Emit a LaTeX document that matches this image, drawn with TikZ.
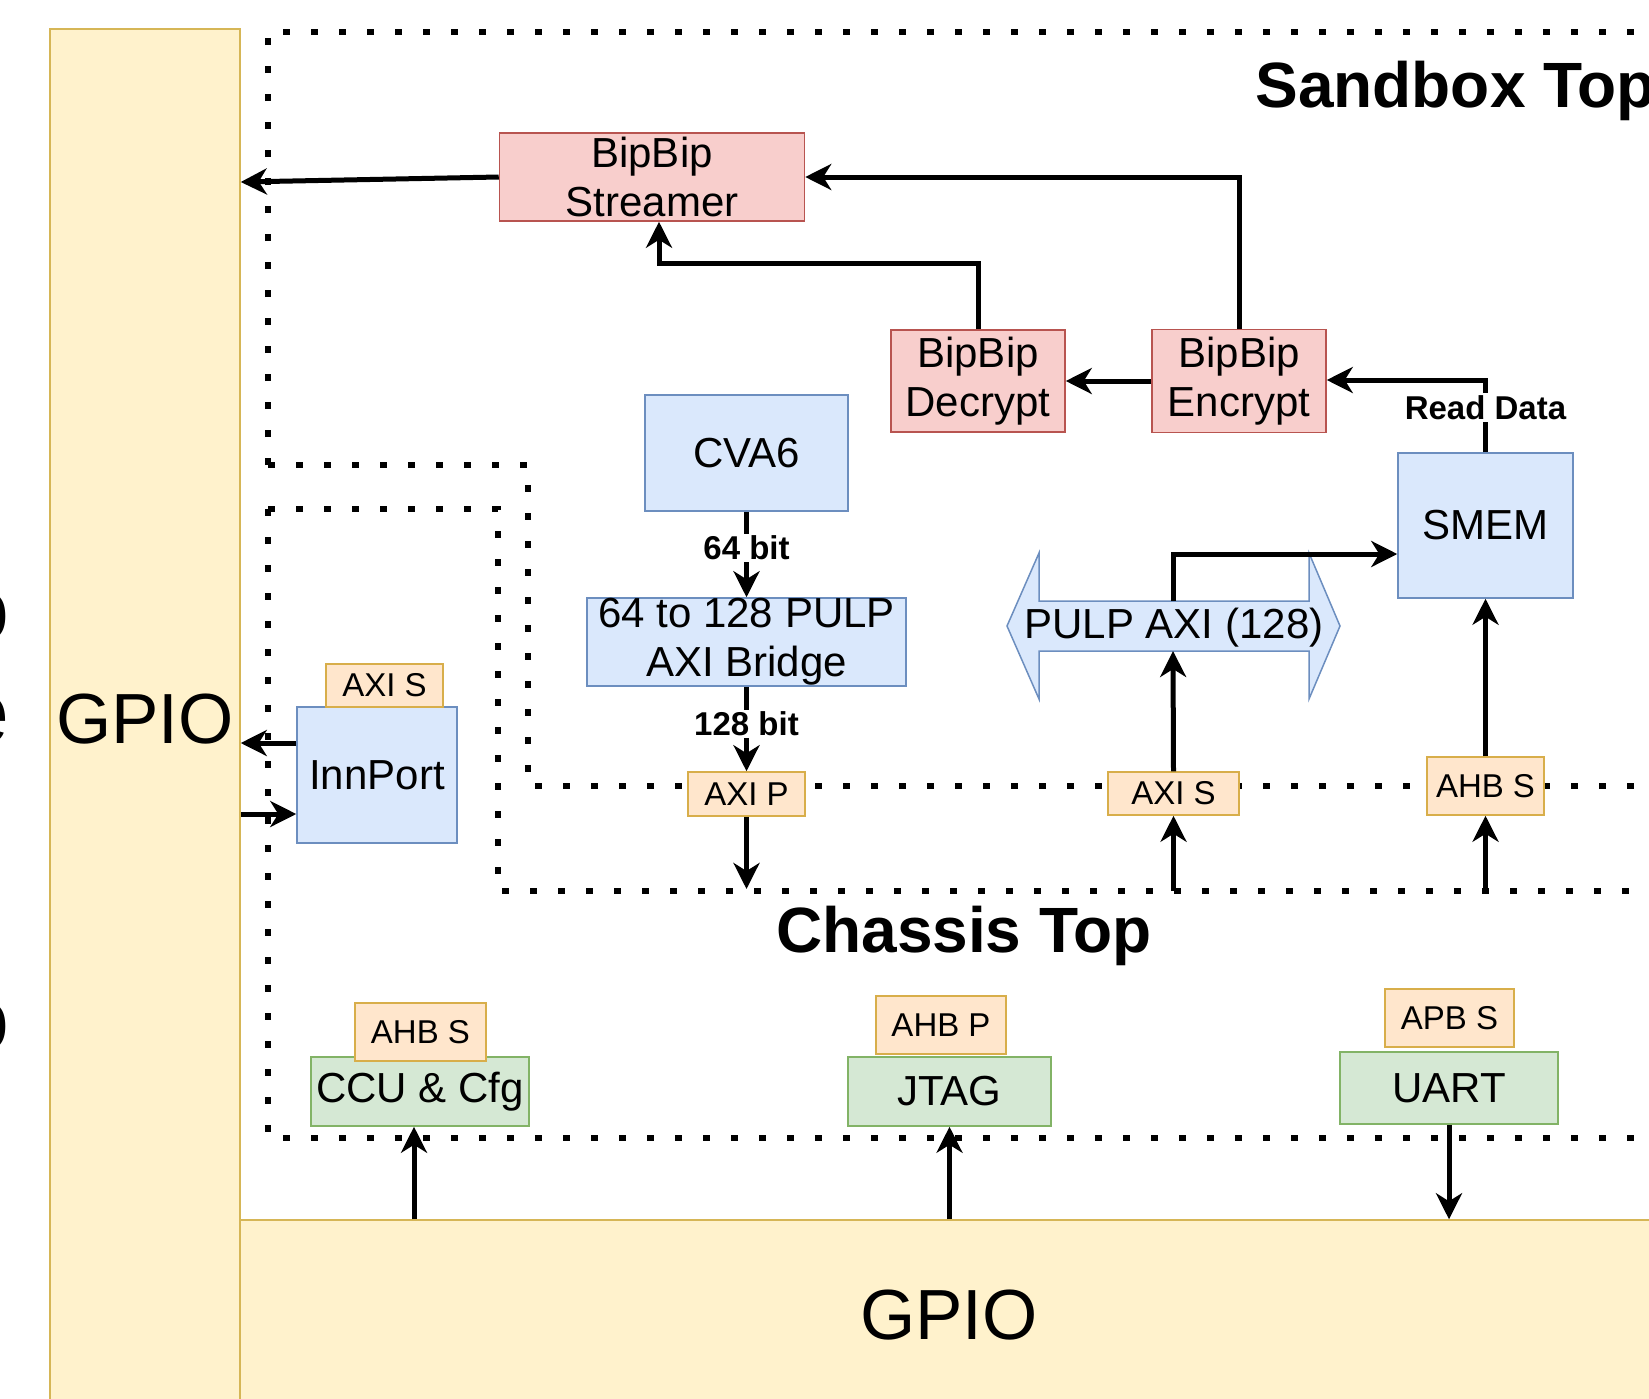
\documentclass[tikz,border=0pt]{standalone}
\usepackage{fontspec}
\setmainfont{Liberation Sans}
\usetikzlibrary{arrows.meta}
\definecolor{ylF}{HTML}{FFF2CC}\definecolor{ylD}{HTML}{D6B656}
\definecolor{rdF}{HTML}{F8CECC}\definecolor{rdD}{HTML}{B85450}
\definecolor{blF}{HTML}{DAE8FC}\definecolor{blD}{HTML}{6C8EBF}
\definecolor{orF}{HTML}{FFE6CC}\definecolor{orD}{HTML}{D8AE4A}
\definecolor{grF}{HTML}{D5E8D4}\definecolor{grD}{HTML}{82B366}
\tikzset{
 box/.style={draw, line width=0.75pt, inner sep=0pt, align=center, font=\fontsize{21}{24.5}\selectfont},
 redbox/.style={box, fill=rdF, draw=rdD},
 bluebox/.style={box, fill=blF, draw=blD},
 greenbox/.style={box, fill=grF, draw=grD},
 tagbox/.style={box, fill=orF, draw=orD, font=\fontsize{16.5}{19}\selectfont},
 gpiobox/.style={box, fill=ylF, draw=ylD, font=\fontsize{35.5}{40}\selectfont},
 arr/.style={line width=2.5pt, -{Stealth[length=13pt, width=13pt, inset=4pt]}},
 lbl/.style={fill=white, inner sep=1pt, font=\bfseries\fontsize{16.5}{19}\selectfont},
 frameline/.style={line width=3.4pt, dash pattern=on 3.4pt off 10.6pt},
 titletext/.style={font=\bfseries\fontsize{32}{38}\selectfont, inner sep=0pt},
 cuttext/.style={font=\fontsize{45}{50}\selectfont, inner sep=0pt, anchor=base east},
}
\begin{document}
\begin{tikzpicture}[x=0.5pt, y=-0.5pt]
\useasboundingbox (0,0) rectangle (1649,1398);
\clip (0,0) rectangle (1649,1398);

% cut-off glyphs at the left edge (as in the reference)
\node[cuttext] (cutA) at (10,640) {o};
\node[cuttext] (cutB) at (10,743) {e};
\node[cuttext] (cutC) at (10,1050) {o};

% GPIO bands
\node[gpiobox, minimum width=709pt, minimum height=95pt] (gpioB) at (949,1315) {GPIO};
\node[gpiobox, minimum width=95pt, minimum height=690.5pt] (gpioL) at (145,719.5) {GPIO};

% dotted frames
\draw[frameline] (268,465) -- (268,32) -- (1670,32);
\draw[frameline] (268,465) -- (528,465) -- (528,786) -- (1670,786);
\draw[frameline] (268,509) -- (268,1138) -- (1670,1138);
\draw[frameline] (268,509) -- (498,509) -- (498,891) -- (1670,891);

% titles
\node[titletext, anchor=base west] (sbtitle) at (1255,107) {Sandbox Top};
\node[titletext, anchor=base] (chtitle) at (964,952) {Chassis Top};

% BipBip blocks
\node[redbox, minimum width=152.5pt, minimum height=44pt] (streamer) at (652,177) {BipBip\\Streamer};
\node[redbox, minimum width=87pt, minimum height=51pt] (decrypt) at (978,381) {BipBip\\Decrypt};
\node[redbox, minimum width=87pt, minimum height=51.5pt] (encrypt) at (1239,381) {BipBip\\Encrypt};

% blue blocks
\node[bluebox, minimum width=101.5pt, minimum height=58pt] (cva6) at (746.5,453) {CVA6};
\node[bluebox, minimum width=159.5pt, minimum height=44pt] (bridge) at (746.5,642) {64 to 128 PULP\\AXI Bridge};
\node[bluebox, minimum width=87.5pt, minimum height=72.5pt] (smem) at (1485.5,525.5) {SMEM};
\node[bluebox, minimum width=80pt, minimum height=68pt] (innport) at (377,775) {InnPort};

% PULP AXI double arrow
\draw[fill=blF, draw=blD, line width=0.75pt] (1007,626) -- (1039,553) -- (1039,601) -- (1309,601) -- (1309,553) -- (1340,626) -- (1309,699) -- (1309,651) -- (1039,651) -- (1039,699) -- cycle;
\node[font=\fontsize{21}{24.5}\selectfont, inner sep=0pt] (pulp) at (1174,628) {PULP AXI (128)};
\coordinate (pulpT) at (1173,601);
\coordinate (pulpB) at (1173,651);
\coordinate (pulpK) at (1173,554);

% interface tags
\node[tagbox, minimum width=58.5pt, minimum height=22pt] (axip) at (746.5,794) {AXI P};
\node[tagbox, minimum width=65.5pt, minimum height=21.5pt] (axisb) at (1173.5,793.5) {AXI S};
\node[tagbox, minimum width=58.5pt, minimum height=29pt] (ahbsb) at (1485.5,786) {AHB S};
\node[tagbox, minimum width=58.5pt, minimum height=21.5pt] (axisi) at (384.5,685.5) {AXI S};

% green peripherals
\node[greenbox, minimum width=109pt, minimum height=34.5pt] (ccu) at (420,1091.5) {CCU \& Cfg};
\node[tagbox, minimum width=65.5pt, minimum height=29pt] (ahbsc) at (420.5,1032) {AHB S};
\node[greenbox, minimum width=101.5pt, minimum height=34.5pt] (jtag) at (949.5,1091.5) {JTAG};
\node[tagbox, minimum width=65pt, minimum height=29pt] (ahbp) at (941,1025) {AHB P};
\node[greenbox, minimum width=109pt, minimum height=36pt] (uart) at (1449,1088) {UART};
\node[tagbox, minimum width=64.5pt, minimum height=29pt] (apbs) at (1449.5,1018) {APB S};

% connectors
\draw[arr] (streamer.west) -- (gpioL.east |- 0,182);
\draw[arr] (encrypt.north) -- (encrypt.north |- streamer.east) -- (streamer.east);
\draw[arr] (decrypt.north) -- (decrypt.north |- 0,263) -- (659,263) -- (streamer.south -| 659,0);
\draw[arr] (encrypt.west) -- (decrypt.east);
\draw[arr] (smem.north) -- node[lbl, pos=0.62] {Read Data} (smem.north |- 0,380) -- (encrypt.east |- 0,380);
\draw[arr] (cva6.south) -- node[lbl, pos=0.42] {64 bit} (bridge.north);
\draw[arr] (bridge.south) -- node[lbl, pos=0.44] {128 bit} (axip.north);
\coordinate (axipEnd) at (746.5,889);
\draw[arr] (axip.south) -- (axipEnd);
\draw[arr] (pulpT) -- (pulpK) -- (pulpK -| smem.west);
\draw[arr] (axisb.north) -- (pulpB);
\coordinate (axisIn) at (1173.5,891);
\draw[arr] (axisIn) -- (axisb.south);
\draw[arr] (ahbsb.north) -- (smem.south);
\coordinate (ahbIn) at (1485.5,891);
\draw[arr] (ahbIn) -- (ahbsb.south);
\draw[arr] (innport.west |- 0,743) -- (gpioL.east |- 0,743);
\draw[arr] (gpioL.east |- 0,814) -- (innport.west |- 0,814);
\draw[arr] (gpioB.north -| 414,0) -- (ccu.south -| 414,0);
\draw[arr] (gpioB.north -| jtag.south) -- (jtag.south);
\draw[arr] (uart.south) -- (uart.south |- gpioB.north);
\end{tikzpicture}
\end{document}
